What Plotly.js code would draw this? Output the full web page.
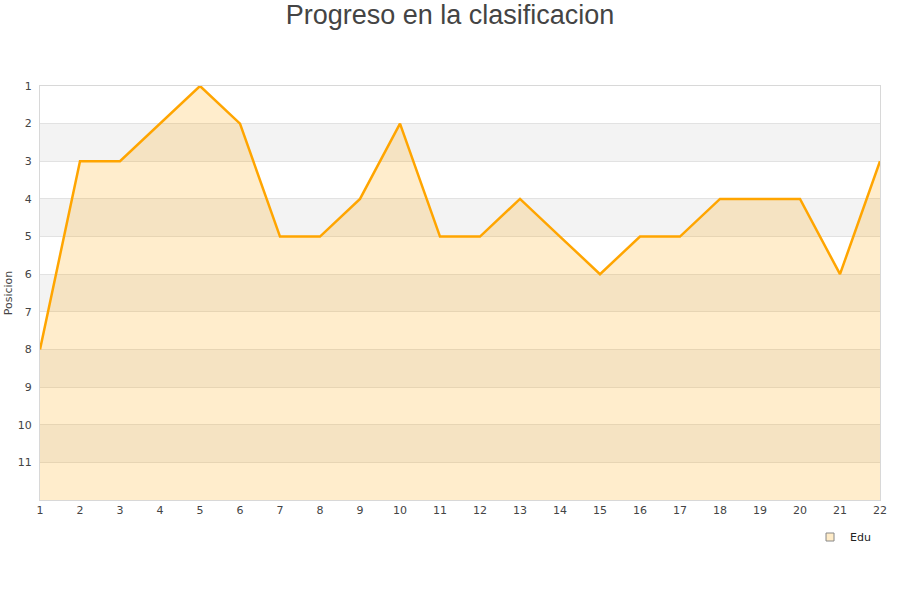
<!DOCTYPE html>
<html><head><meta charset="utf-8">
<script src="https://cdn.plot.ly/plotly-3.0.1.min.js"></script>
<style>body{margin:0}#c{width:900px;height:600px}</style>
</head><body><div id="c"></div>
<script>
const jornadas = [1,2,3,4,5,6,7,8,9,10,11,12,13,14,15,16,17,18,19,20,21,22];
const posiciones = [8,3,3,2,1,2,5,5,4,2,5,5,4,5,6,5,5,4,4,4,6,3];
const fondo = jornadas.map(() => 12);
const yTicks = [1,2,3,4,5,6,7,8,9,10,11];
const bandas = [[2,3],[4,5],[6,7],[8,9],[10,11]];

const shapes = bandas.map(b => ({type:'rect', xref:'paper', yref:'y', x0:0, x1:1, y0:b[0], y1:b[1],
  fillcolor:'#f3f3f3', line:{width:0}, layer:'below'}));

const data = [
  {x: jornadas, y: fondo, mode:'lines', line:{width:0}, hoverinfo:'skip', showlegend:false},
  {x: jornadas, y: posiciones, mode:'lines', fill:'tonexty', fillcolor:'rgba(255,165,0,0.2)',
   line:{color:'#ffa500', width:2.5}, name:'Edu', showlegend:false},
  {x:[null], y:[null], mode:'markers', name:'Edu',
   marker:{symbol:'square', size:8, color:'#ffecc8', line:{color:'#888', width:1}}}
];

const layout = {
  width:900, height:600,
  margin:{l:40, r:20, t:86, b:100, autoexpand:false},
  paper_bgcolor:'#fff', plot_bgcolor:'#fff',
  font:{family:'DejaVu Sans', color:'#444', size:11},
  title:{text:'Progreso en la clasificacion', x:0.5, xanchor:'center', y:0.976, yanchor:'middle',
    font:{family:'Liberation Sans, Arial', size:27, color:'#444'}},
  xaxis:{range:[1,22], tickvals:jornadas, showgrid:false, zeroline:false,
    showline:true, linecolor:'#d8d8d8', mirror:true, ticks:'', ticklen:0,
    tickfont:{size:11, color:'#444'}},
  yaxis:{range:[12,1], tickvals:yTicks, showgrid:true, gridcolor:'#e2e2e2', zeroline:false,
    showline:true, linecolor:'#d8d8d8', mirror:true, ticks:'', ticklabelstandoff:5,
    tickfont:{size:11, color:'#444'},
    title:{text:'Posicion', font:{size:11, color:'#444'}, standoff:2}},
  shapes: shapes,
  showlegend:true,
  legend:{x:0.9167, y:-0.0894, xanchor:'left', yanchor:'middle',
    font:{size:11, color:'#222'}, bgcolor:'rgba(0,0,0,0)', itemwidth:30}
};
Plotly.newPlot('c', data, layout, {displayModeBar:false});
</script></body></html>
